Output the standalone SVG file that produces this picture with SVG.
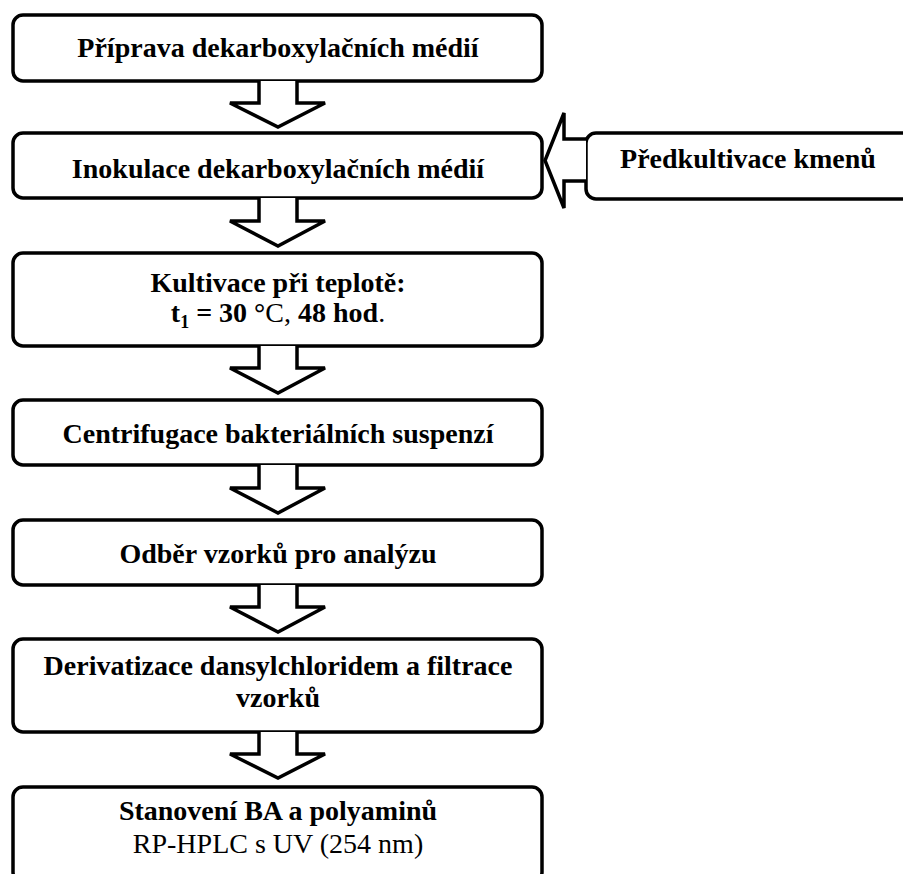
<svg xmlns="http://www.w3.org/2000/svg" width="903" height="874" viewBox="0 0 903 874">
<style>
.box{fill:#fff;stroke:#000;stroke-width:3.5}
.arr{fill:#fff;stroke:#000;stroke-width:3.5;stroke-linejoin:miter}
text{font-family:"Liberation Serif","Times New Roman",serif;font-size:28px;fill:#000;text-anchor:middle}
.b{font-weight:bold}
.r{font-weight:normal}
</style>
<rect width="903" height="874" fill="#fff"/>
<g id="n1"><rect class="box" x="13" y="15" width="529" height="66" rx="10"/><text class="b" x="278" y="57">Příprava dekarboxylačních médií</text></g>
<g id="n2"><rect class="box" x="13" y="133" width="529" height="65" rx="10"/><text class="b" x="278" y="178">Inokulace dekarboxylačních médií</text></g>
<g id="n8"><rect class="box" x="586" y="133" width="340" height="66" rx="10"/><text class="b" x="748" y="168">Předkultivace kmenů</text></g>
<g id="n3"><rect class="box" x="13" y="253" width="529" height="93" rx="10"/><text class="b" x="278" y="292">Kultivace při teplotě:</text><text x="278" y="322"><tspan class="b">t</tspan><tspan class="b" font-size="18" dy="6">1</tspan><tspan class="b" dy="-6"> = 30 °</tspan><tspan class="r">C,</tspan><tspan class="b"> 48 hod</tspan><tspan class="r">.</tspan></text></g>
<g id="n4"><rect class="box" x="13" y="400" width="529" height="65" rx="10"/><text class="b" x="278" y="443">Centrifugace bakteriálních suspenzí</text></g>
<g id="n5"><rect class="box" x="13" y="520" width="529" height="65" rx="10"/><text class="b" x="278" y="563">Odběr vzorků pro analýzu</text></g>
<g id="n6"><rect class="box" x="13" y="639" width="529" height="93" rx="10"/><text class="b" x="278" y="675">Derivatizace dansylchloridem a filtrace</text><text class="b" x="278" y="707">vzorků</text></g>
<g id="n7"><rect class="box" x="13" y="787" width="529" height="95" rx="10"/><text class="b" x="278" y="820">Stanovení BA a polyaminů</text><text class="r" x="278" y="853">RP-HPLC s UV (254 nm)</text></g>
<g id="connectors">
<path class="arr" d="M259,81 V103 H230 L278,127 L325,103 H297 V81"/>
<path class="arr" d="M259,198 V221 H230 L278,246 L325,221 H297 V198"/>
<path class="arr" d="M259,346 V368 H230 L278,393 L325,368 H297 V346"/>
<path class="arr" d="M259,465 V488 H230 L278,513 L325,488 H297 V465"/>
<path class="arr" d="M259,585 V607 H230 L278,632 L325,607 H297 V585"/>
<path class="arr" d="M259,732 V754 H230 L278,778 L325,754 H297 V732"/>
<path class="arr" d="M586,139 H564 V113 L545,160.5 L564,208 V181 H586"/>
</g>
</svg>
